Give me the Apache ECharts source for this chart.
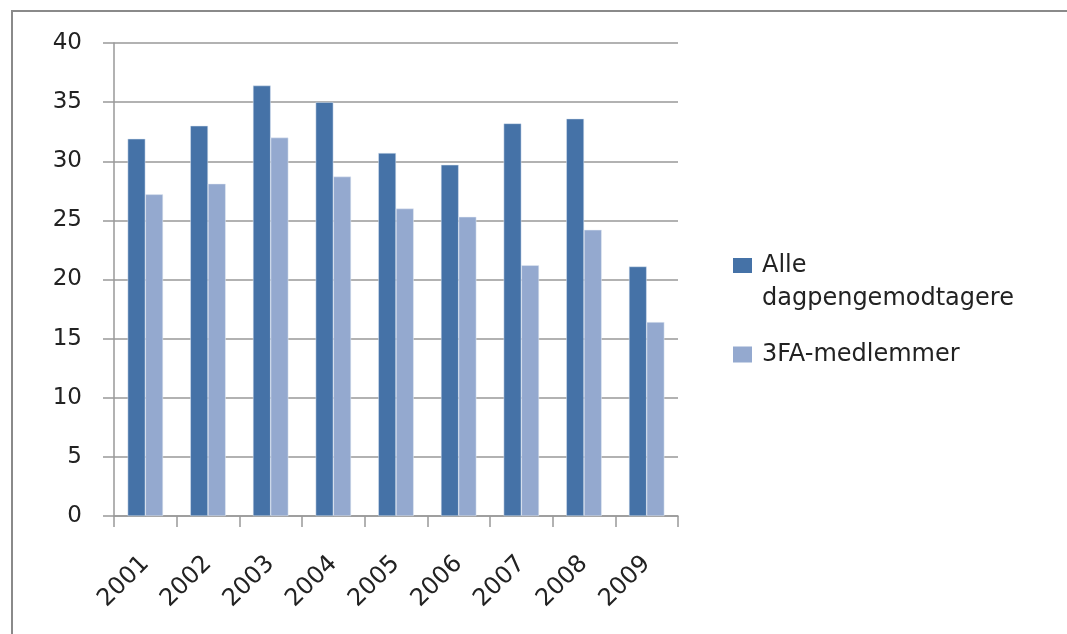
<!DOCTYPE html>
<html>
<head>
<meta charset="utf-8">
<script src="https://cdn.jsdelivr.net/npm/echarts@6/dist/echarts.min.js"></script>
<style>html,body{margin:0;padding:0;background:#fff}#c{width:1067px;height:634px}</style>
</head>
<body>
<div id="c"></div>
<script>
var categories = ['2001','2002','2003','2004','2005','2006','2007','2008','2009'];
var seriesNames = ['Alle\ndagpengemodtagere', '3FA-medlemmer'];
var alleValues = [31.9, 33.0, 36.4, 35.0, 30.7, 29.7, 33.2, 33.6, 21.1];
var fa3Values = [27.2, 28.1, 32.0, 28.7, 26.0, 25.3, 21.2, 24.2, 16.4];
var yTicks = [0, 5, 10, 15, 20, 25, 30, 35, 40];

var FONT = 'DejaVu Sans';
var topIcon = 'path://M0,9L19,9L19,24L0,24Z M0,0L0.01,0L0.01,0.01Z M23.99,66L24,66L24,65.99Z';
var plainIcon = 'path://M0,0L19,0L19,16L0,16Z M23.99,16L24,16L24,15.99Z';
var chart = echarts.init(document.getElementById('c'));
chart.setOption({
  animation: false,
  backgroundColor: '#fff',
  graphic: [{
    type: 'rect', shape: {x: 12, y: 11, width: 1100, height: 700},
    style: {fill: 'none', stroke: '#8a8a8a', lineWidth: 2}, silent: true
  }],
  grid: {left: 114, right: 389, top: 43, bottom: 118},
  legend: [{
    data: [{name: seriesNames[0], icon: topIcon}], orient: 'vertical', left: 728, top: 244,
    itemWidth: 24, itemHeight: 66, itemGap: 0,
    itemStyle: {borderWidth: 0},
    textStyle: {fontFamily: FONT, fontSize: 24, color: '#222', lineHeight: 33}
  }, {
    data: [{name: seriesNames[1], icon: plainIcon}], orient: 'vertical', left: 728, top: 333,
    itemWidth: 24, itemHeight: 16,
    itemStyle: {borderWidth: 0},
    textStyle: {fontFamily: FONT, fontSize: 24, color: '#222', lineHeight: 33}
  }],
  xAxis: {
    type: 'category', data: categories,
    axisLine: {lineStyle: {color: '#999', width: 1.5}},
    axisTick: {show: true, length: 11, lineStyle: {color: '#999', width: 1.5}},
    axisLabel: {rotate: 45, margin: 44, fontFamily: FONT, fontSize: 24, color: '#222', interval: 0}
  },
  yAxis: {
    type: 'value', min: 0, max: 40, interval: 5,
    axisLine: {show: true, lineStyle: {color: '#999', width: 1.5}},
    axisTick: {show: true, length: 11, lineStyle: {color: '#999', width: 1.5}},
    axisLabel: {margin: 32, fontFamily: FONT, fontSize: 23, color: '#222',
      formatter: function (v) { return yTicks.indexOf(v) >= 0 ? String(v) : ''; }},
    splitLine: {lineStyle: {color: '#999', width: 1.5}}
  },
  series: [{
    name: seriesNames[0], type: 'bar', data: alleValues,
    barWidth: 17.7, barGap: '0%',
    itemStyle: {color: '#4572A7', borderColor: '#dde6f2', borderWidth: 0.5}
  }, {
    name: seriesNames[1], type: 'bar', data: fa3Values,
    barWidth: 17.7, barGap: '0%',
    itemStyle: {color: '#94A9CF', borderColor: '#e6ecf5', borderWidth: 0.5}
  }]
});
</script>
</body>
</html>
